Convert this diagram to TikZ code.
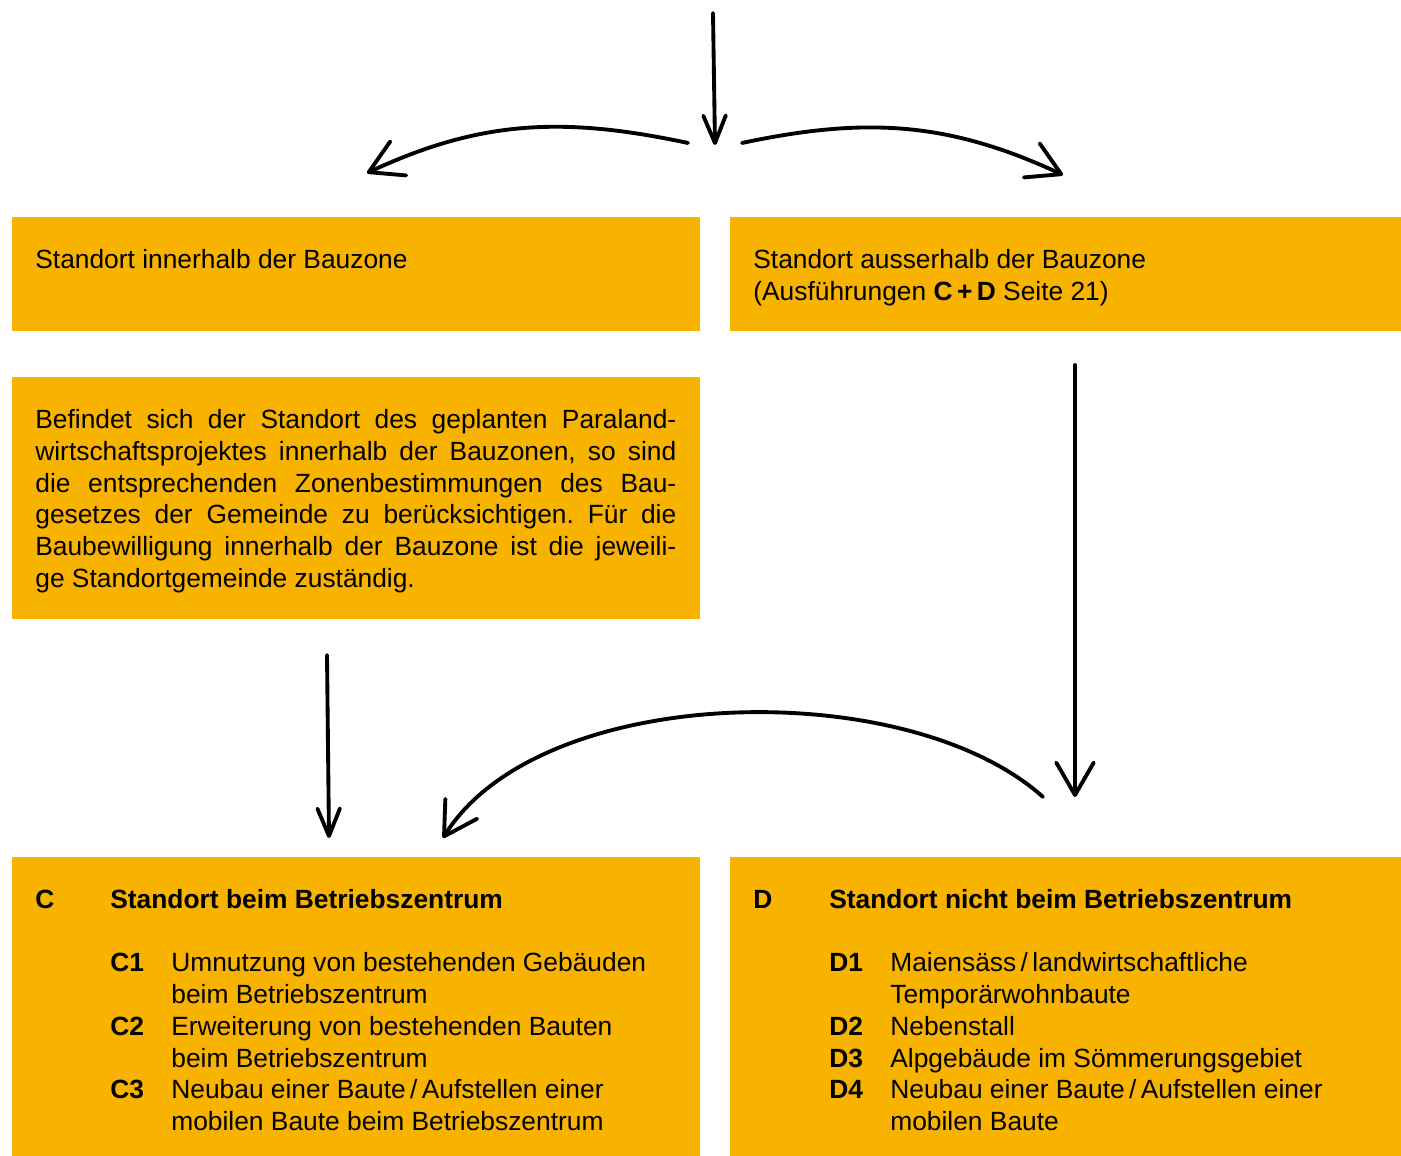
\documentclass[tikz,border=0pt]{standalone}
\usepackage{fontspec}
\setmainfont{Liberation Sans}
\usetikzlibrary{arrows.meta, positioning}
\definecolor{bauorange}{RGB}{248,178,0}
\frenchspacing

\begin{document}
\begin{tikzpicture}[
    box/.style={fill=bauorange, inner sep=0pt, anchor=north west},
    txt/.style={inner sep=0pt, anchor=north west, align=left, font=\fontsize{15pt}{18.1pt}\selectfont},
    flow/.style={line width=2.2pt, line cap=round, -{Straight Barb[length=0.65cm, width=0.75cm, round]}},
    thin head/.style={-{Straight Barb[length=0.55cm, width=0.45cm, round]}}
]
\useasboundingbox (0,0) rectangle (28.02,23.12);

% Orange boxes
\node[box, minimum width=13.76cm, minimum height=2.28cm] (innen) at (0.24,18.78) {};
\node[box, minimum width=13.42cm, minimum height=2.28cm] (aussen) at (14.6,18.78) {};
\node[box, minimum width=13.76cm, minimum height=4.84cm] (info) at (0.24,15.58) {};
\node[box, minimum width=13.76cm, minimum height=5.98cm] (zentrum) at (0.24,5.98) {};
\node[box, minimum width=13.42cm, minimum height=5.98cm] (fern) at (14.6,5.98) {};

% Box texts
\node[txt, below right=0.64cm and 0.46cm of innen.north west] (innentxt) {Standort innerhalb der Bauzone};
\node[txt, below right=0.64cm and 0.46cm of aussen.north west] (aussentxt)
    {Standort ausserhalb der Bauzone\\(Ausführungen \textbf{C\,+\,D} Seite 21)};
\node[txt, text width=12.82cm, align=justify, below right=0.64cm and 0.46cm of info.north west] (infotxt)
    {\hyphenpenalty=10000 Befindet sich der Standort des geplanten Paraland-\linebreak
    wirtschaftsprojektes innerhalb der Bauzonen, so sind\linebreak
    die entsprechenden Zonenbestimmungen des Bau-\linebreak
    gesetzes der Gemeinde zu berücksichtigen. Für die\linebreak
    Baubewilligung innerhalb der Bauzone ist die jeweili-\linebreak
    ge Standortgemeinde zuständig.};
\node[txt, below right=0.57cm and 0.46cm of zentrum.north west] (zentrumtxt) {%
    \begin{tabular}{@{}p{1.5cm}@{}p{1.22cm}@{}l@{}}
    \textbf{C} & \multicolumn{2}{@{}l@{}}{\textbf{Standort beim Betriebszentrum}}\\
    \\
    & \textbf{C1} & Umnutzung von bestehenden Gebäuden\\
    & & beim Betriebszentrum\\
    & \textbf{C2} & Erweiterung von bestehenden Bauten\\
    & & beim Betriebszentrum\\
    & \textbf{C3} & Neubau einer Baute\,/\,Aufstellen einer\\
    & & mobilen Baute beim Betriebszentrum
    \end{tabular}};
\node[txt, below right=0.57cm and 0.46cm of fern.north west] (ferntxt) {%
    \begin{tabular}{@{}p{1.52cm}@{}p{1.22cm}@{}l@{}}
    \textbf{D} & \multicolumn{2}{@{}l@{}}{\textbf{Standort nicht beim Betriebszentrum}}\\
    \\
    & \textbf{D1} & Maiensäss\,/\,landwirtschaftliche\\
    & & Temporärwohnbaute\\
    & \textbf{D2} & Nebenstall\\
    & \textbf{D3} & Alpgebäude im Sömmerungsgebiet\\
    & \textbf{D4} & Neubau einer Baute\,/\,Aufstellen einer\\
    & & mobilen Baute
    \end{tabular}};

% Arrow end points
\coordinate (eingang) at (14.26,22.86);
\coordinate (gabel) at (14.30,20.22);
\coordinate (gabel-l) at (13.76,20.26);
\coordinate (gabel-r) at (14.84,20.26);
\coordinate (ziel-innen) at (7.34,19.66);
\coordinate (ziel-aussen) at (21.26,19.62);
\coordinate (info-aus) at (6.54,10.02);
\coordinate (zentrum-ein) at (6.58,6.36);
\coordinate (aussen-aus) at (21.50,15.82);
\coordinate (fern-ein) at (21.50,7.18);
\coordinate (bogen-start) at (20.86,7.18);
\coordinate (bogen-ende) at (8.86,6.36);

% Arrows
\draw[flow, thin head] (eingang) -- (gabel);
\draw[flow] (gabel-l) to[out=168, in=25] (ziel-innen);
\draw[flow] (gabel-r) to[out=12, in=155] (ziel-aussen);
\draw[flow, thin head] (info-aus) -- (zentrum-ein);
\draw[flow] (aussen-aus) -- (fern-ein);
\draw[flow] (bogen-start) to[out=138, in=58, looseness=0.78] (bogen-ende);

\end{tikzpicture}
\end{document}
